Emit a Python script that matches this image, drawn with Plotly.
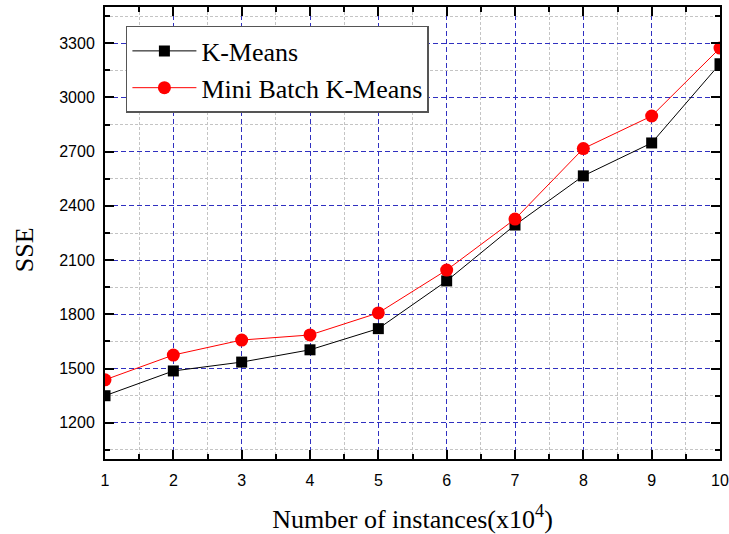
import plotly.graph_objects as go

instances = [1, 2, 3, 4, 5, 6, 7, 8, 9, 10]
kmeans_sse = [1350, 1487, 1536, 1604, 1721, 1985, 2294, 2566, 2748, 3186]
minibatch_sse = [1438, 1575, 1658, 1686, 1808, 2045, 2327, 2717, 2897, 3273]

fig = go.Figure()
fig.add_trace(go.Scatter(
    x=instances, y=kmeans_sse, mode="lines+markers", name="K-Means",
    line=dict(color="black", width=1),
    marker=dict(symbol="square", size=11, color="black"),
))
fig.add_trace(go.Scatter(
    x=instances, y=minibatch_sse, mode="lines+markers", name="Mini Batch K-Means",
    line=dict(color="red", width=1),
    marker=dict(symbol="circle", size=13, color="red"),
))

axis_common = dict(
    showline=True, linecolor="black", linewidth=2, mirror="allticks",
    ticks="inside", ticklen=9, tickwidth=2, tickcolor="black",
    showgrid=True, gridcolor="#3030c0", gridwidth=1, griddash="5px,3px",
    zeroline=False, automargin=False,
    tickfont=dict(family="Liberation Sans, Arial", size=16, color="black"),
)
minor_common = dict(ticks="inside", ticklen=5, tickwidth=2, tickcolor="black",
                    showgrid=True, gridcolor="#c4c4c4", gridwidth=1, griddash="3px,2px")

serif = "Liberation Serif, Times New Roman"

fig.update_xaxes(
    range=[1, 10], tickmode="linear", tick0=1, dtick=1, ticklabelstandoff=6,
    title=dict(text="Number of instances(x10<sup>4</sup>)",
               font=dict(family=serif, size=26, color="black"),
               standoff=26),
    minor=dict(dtick=0.5, tick0=1, **minor_common),
    **axis_common,
)
fig.update_yaxes(
    range=[1000, 3500], tickmode="linear", tick0=1200, dtick=300, ticklabelstandoff=5,
    minor=dict(dtick=150, tick0=1050, **minor_common),
    **axis_common,
)

fig.add_annotation(
    text="SSE", xref="paper", yref="paper", x=-0.1317, y=0.462,
    xanchor="center", yanchor="middle", textangle=-90, showarrow=False,
    font=dict(family=serif, size=26, color="black"),
)

fig.update_layout(
    width=729, height=534,
    margin=dict(l=105, r=9, t=7, b=75),
    plot_bgcolor="white", paper_bgcolor="white",
    showlegend=True,
    legend=dict(
        x=0.034, y=0.958, xanchor="left", yanchor="top",
        bgcolor="white", bordercolor="#555555", borderwidth=1.5,
        font=dict(family=serif, size=26, color="black"),
        itemwidth=64, tracegroupgap=0,
    ),
)

fig.write_html(
    "out.html",
    config={"displayModeBar": False},
    post_script="document.body.style.margin='0';document.body.style.overflow='hidden';",
)
